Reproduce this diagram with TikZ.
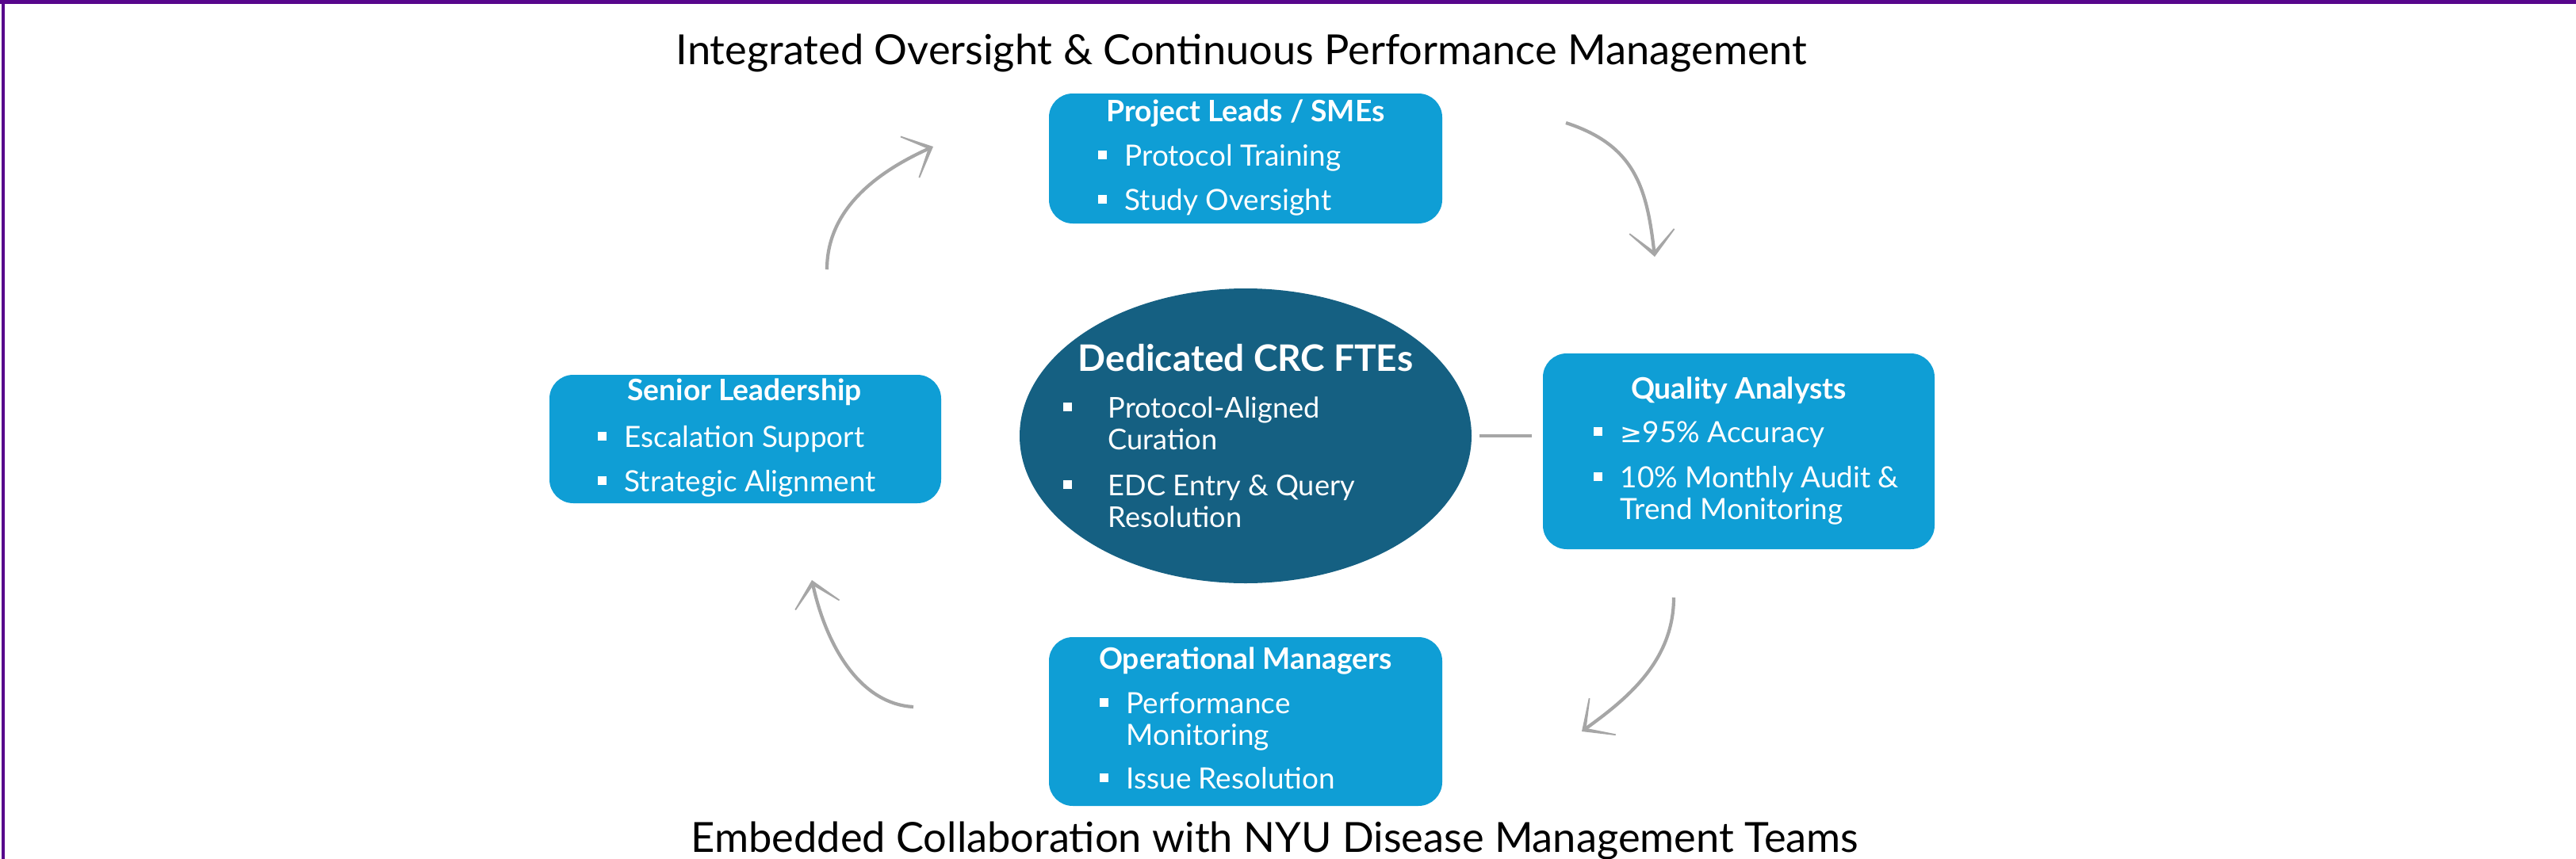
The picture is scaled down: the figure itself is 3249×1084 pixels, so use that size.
\documentclass[tikz,border=0pt]{standalone}
\usepackage{fontspec}
\setmainfont{Lato}
\newfontfamily\symfont{DejaVu Sans}
\usetikzlibrary{arrows.meta,shapes.geometric}
\definecolor{boxblue}{HTML}{0F9ED5}
\definecolor{ellblue}{HTML}{156082}
\definecolor{arrgray}{HTML}{A6A6A6}
\definecolor{nyupurple}{HTML}{57068C}
\newcommand{\bsq}{\raisebox{0.85mm}{\rule{1.1mm}{1.1mm}}}
\newcommand{\bl}[1]{\llap{\bsq\hspace{2.3mm}}#1}
\newcommand{\ebl}[1]{\llap{\bsq\hspace{4.6mm}}#1}
\begin{document}
\begin{tikzpicture}[x=0.1mm,y=-0.1mm,
  box/.style={draw=none, fill=boxblue, rounded corners=3mm, inner sep=0pt},
  btitle/.style={anchor=base, text=white, font=\fontsize{10.6}{12}\selectfont\bfseries, inner sep=0pt},
  btext/.style={anchor=base west, text=white, font=\fontsize{10.5}{12}\selectfont, inner sep=0pt},
  etitle/.style={anchor=base, text=white, font=\fontsize{13.1}{15}\selectfont\bfseries, inner sep=0pt},
  etext/.style={anchor=base west, text=white, font=\fontsize{10.3}{12}\selectfont, inner sep=0pt},
  head/.style={anchor=base, text=black, font=\fontsize{14.9}{17}\selectfont, inner sep=0pt},
  arr/.style={draw=arrgray, line width=0.42mm, -{Stealth[length=4.8mm, width=8.8mm, inset=4.1mm]}},
  link/.style={draw=arrgray, line width=0.4mm},
]
\useasboundingbox (0,0) rectangle (3249,1084);
\fill[white] (0,0) rectangle (3249,1084);
\draw[nyupurple, line width=0.5mm] (0,2.5) -- (3249,2.5);
\draw[nyupurple, line width=0.4mm] (4,0) -- (4,1084);

% headings
\node[head] (top) at (1566,81) {Integrated Oversight \& Continuous Performance Management};
\node[head] (bottom) at (1608,1075) {Embedded Collaboration with NYU Disease Management Teams};

% boxes
\node[box, minimum width=49.6mm, minimum height=16.4mm] (pl) at (1571,200) {};
\node[box, minimum width=49.4mm, minimum height=16.2mm] (sl) at (940,554) {};
\node[box, minimum width=49.4mm, minimum height=24.7mm] (qa) at (2193,569.5) {};
\node[box, minimum width=49.6mm, minimum height=21.3mm] (om) at (1571,910.5) {};
\node[ellipse, fill=ellblue, inner sep=0pt, minimum width=57mm, minimum height=37.2mm] (ell) at (1571,550) {};

% Project Leads
\node[btitle] (plt) at (1571,153) {Project Leads / SMEs};
\node[btext] (pl1) at (1418,209) {\bl{Protocol Training}};
\node[btext] (pl2) at (1418,265) {\bl{Study Oversight}};

% Senior Leadership
\node[btitle] (slt) at (939,505) {Senior Leadership};
\node[btext] (sl1) at (787,564) {\bl{Escalation Support}};
\node[btext] (sl2) at (787,620) {\bl{Strategic Alignment}};

% Quality Analysts
\node[btitle] (qat) at (2193,503) {Quality Analysts};
\node[btext] (qa1) at (2043,558) {\bl{{\symfont\fontsize{9.5}{12}\selectfont ≥}95\% Accuracy}};
\node[btext] (qa2) at (2043,615) {\bl{10\% Monthly Audit \&}};
\node[btext] (qa3) at (2043,655) {Trend Monitoring};

% Operational Managers
\node[btitle] (omt) at (1571,844) {Operational Managers};
\node[btext] (om1) at (1420,900) {\bl{Performance}};
\node[btext] (om2) at (1420,940) {Monitoring};
\node[btext] (om3) at (1420,995) {\bl{Issue Resolution}};

% Ellipse
\node[etitle] (elt) at (1571,468) {Dedicated CRC FTEs};
\node[etext] (el1) at (1397,527) {\ebl{Protocol-Aligned}};
\node[etext] (el2) at (1397,567) {Curation};
\node[etext] (el3) at (1397,625) {\ebl{EDC Entry \& Query}};
\node[etext] (el4) at (1397,665) {Resolution};

% link
\draw[link, shorten <=0.9mm, shorten >=1.3mm] (ell.east) -- (ell.east -| qa.west);

% cycle arrows
\coordinate (a1s) at (1043,340); \coordinate (a1e) at (1177,185);
\draw[arr] (a1s) .. controls (1043,260) and (1113,214) .. (a1e);
\coordinate (a2s) at (1975,155); \coordinate (a2e) at (2087,324);
\draw[arr] (a2s) .. controls (2061,183) and (2077,235) .. (a2e);
\coordinate (a3s) at (2111,754); \coordinate (a3e) at (1995,923);
\draw[arr] (a3s) .. controls (2111,834) and (2052,882) .. (a3e);
\coordinate (a4s) at (1152,892); \coordinate (a4e) at (1024,732);
\draw[arr] (a4s) .. controls (1082,888) and (1041,810) .. (a4e);
\end{tikzpicture}
\end{document}
